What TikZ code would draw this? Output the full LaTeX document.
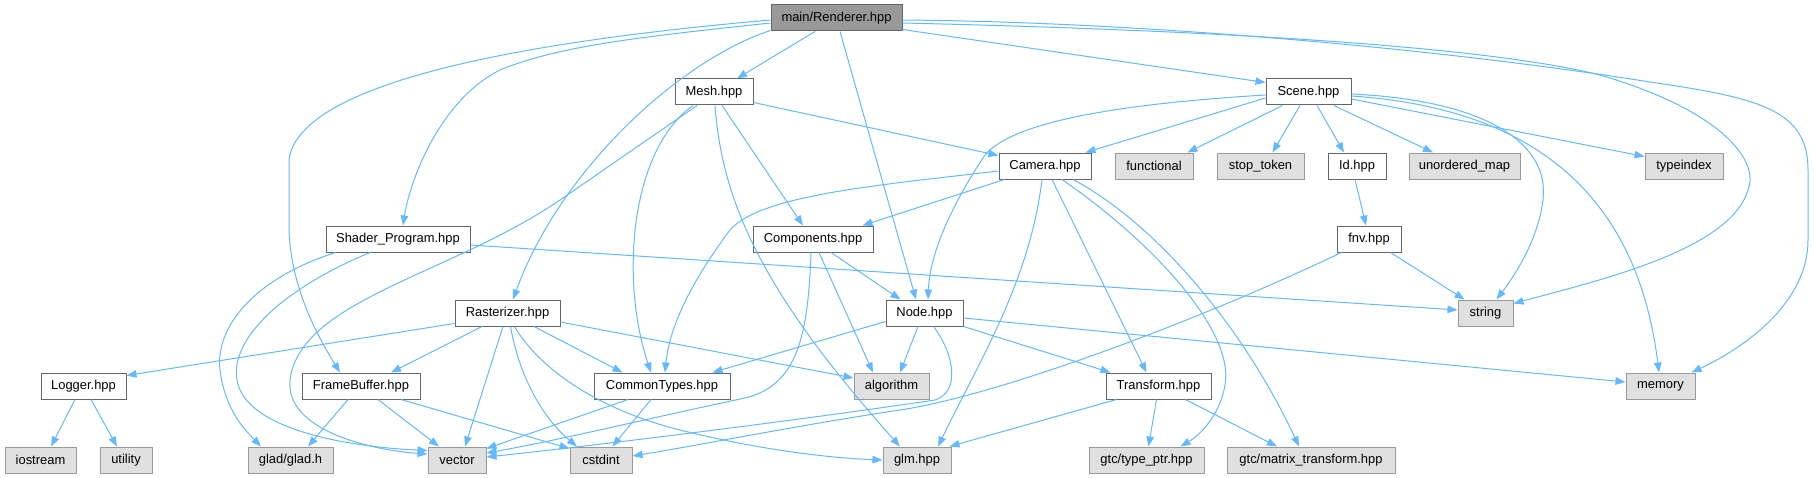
\documentclass[tikz,border=0pt]{standalone}
\usepackage{fontspec}
\setmainfont{Liberation Sans}
\usetikzlibrary{arrows.meta,calc}
\definecolor{edgec}{HTML}{63B8FF}
\definecolor{boxborder}{HTML}{666666}
\definecolor{sysborder}{HTML}{999999}
\definecolor{sysfill}{HTML}{E0E0E0}
\definecolor{rootfill}{HTML}{999999}
\begin{document}
\begin{tikzpicture}[x=0.75pt,y=-0.75pt,
  box/.style={draw=boxborder, fill=white, line width=0.75pt, minimum height=19.5pt, inner sep=0pt,
    font=\fontsize{9.7}{11}\selectfont, text=black},
  sys/.style={box, draw=sysborder, fill=sysfill},
  root/.style={box, fill=rootfill},
  wd/.style={minimum width=#1*0.75pt},
  dep/.style={draw=edgec, line width=0.75pt, -{Triangle[length=7.5pt,width=5.6pt]}}]
\useasboundingbox (0,0) rectangle (1814,478);
% row 1
\node[root, wd=131] (R) at (836.5,18) {main/Renderer.hpp};
% row 2
\node[box, wd=78] (mesh) at (714,92) {Mesh.hpp};
\node[box, wd=85] (scene) at (1308.5,92) {Scene.hpp};
% row 3
\node[box, wd=92] (camera) at (1045,166) {Camera.hpp};
\node[sys, wd=78] (functional) at (1154,166) {functional};
\node[sys, wd=87] (stoptok) at (1260.5,166) {stop\_token};
\node[box, wd=58] (idh) at (1357,166) {Id.hpp};
\node[sys, wd=111] (umap) at (1464.5,166) {unordered\_map};
\node[sys, wd=78] (tindex) at (1684,166) {typeindex};
% row 4
\node[box, wd=144] (shader) at (398,239) {Shader\_Program.hpp};
\node[box, wd=120] (comp) at (813,239) {Components.hpp};
\node[box, wd=64] (fnv) at (1369,239) {fnv.hpp};
% row 5
\node[box, wd=105] (rast) at (507.5,313) {Rasterizer.hpp};
\node[box, wd=77] (nodeh) at (924.5,313) {Node.hpp};
\node[sys, wd=55] (str) at (1485.5,313) {string};
% row 6
\node[box, wd=85] (logger) at (83.5,386) {Logger.hpp};
\node[box, wd=118] (fb) at (361,386) {FrameBuffer.hpp};
\node[box, wd=136] (ctypes) at (662,386) {CommonTypes.hpp};
\node[sys, wd=75] (algo) at (891.5,386) {algorithm};
\node[box, wd=105] (transf) at (1158.5,386) {Transform.hpp};
\node[sys, wd=69] (memory) at (1660.5,386) {memory};
% row 7
\node[sys, wd=71] (iostream) at (40.5,460) {iostream};
\node[sys, wd=52] (utility) at (126,460) {utility};
\node[sys, wd=85] (glad) at (290.5,460) {glad/glad.h};
\node[sys, wd=58] (vector) at (457,460) {vector};
\node[sys, wd=62] (cstdint) at (601,460) {cstdint};
\node[sys, wd=68] (glm) at (917,460) {glm.hpp};
\node[sys, wd=115] (typeptr) at (1146.5,460) {gtc/type\_ptr.hpp};
\node[sys, wd=168] (matrix) at (1311,460) {gtc/matrix\_transform.hpp};

% Renderer
\draw[dep] ($(R.south)+(-21.5,0)$) -- ($(mesh.north)+(23,0)$);
\draw[dep] ($(R.south east)+(0,-2)$) -- ($(scene.north west)+(0,4)$);
\draw[dep] ($(R.south)+(3.5,0)$) -- ($(nodeh.north)+(-8.5,0)$);
\draw[dep] ($(R.south west)+(0,-1)$) .. controls (680,60) and (560,170) .. ($(rast.north)+(5.5,0)$);
\draw[dep] ($(R.west)+(0,5)$) .. controls (650,36) and (560,45) .. (500,70) .. controls (440,100) and (410,180) .. ($(shader.north)+(5,0)$);
\draw[dep] ($(R.west)+(0,2)$) .. controls (600,35) and (300,70) .. (289,160) -- (289,230) .. controls (291,290) and (320,340) .. ($(fb.north)+(-21,0)$);
\draw[dep] ($(R.east)+(0,5)$) .. controls (1200,30) and (1480,45) .. (1600,75) .. controls (1720,110) and (1760,160) .. (1748,190) .. controls (1730,250) and (1600,280) .. ($(str.north east)+(0,4)$);
\draw[dep] ($(R.east)+(0,2)$) .. controls (1150,22) and (1450,50) .. (1650,82) .. controls (1760,98) and (1808,110) .. (1808,170) -- (1808,240) .. controls (1808,300) and (1750,345) .. ($(memory.north east)+(-4,0)$);
% Mesh
\draw[dep] ($(mesh.south east)+(0,-3)$) -- ($(camera.north west)+(0,3)$);
\draw[dep] ($(mesh.south)+(8,0)$) -- ($(comp.north)+(-10,0)$);
\draw[dep] ($(mesh.south)+(1,0)$) .. controls (722,200) and (760,290) .. ($(glm.north)+(-17,0)$);
\draw[dep] ($(mesh.south)+(-21,0)$) .. controls (630,150) and (620,280) .. ($(ctypes.north)+(-11,0)$);
\draw[dep] ($(mesh.south)+(-17,0)$) -- (560,200) .. controls (450,275) and (300,300) .. (290,380) .. controls (285,430) and (370,450) .. ($(vector.west)+(0,-6)$);
% Scene
\draw[dep] ($(scene.west)+(0,6)$) -- ($(camera.north east)+(-6,0)$);
\draw[dep] ($(scene.west)+(0,3)$) .. controls (1100,105) and (1010,125) .. (985,155) .. controls (955,200) and (930,250) .. ($(nodeh.north)+(3.5,0)$);
\draw[dep] ($(scene.south west)+(17,0)$) -- ($(functional.north east)+(-6,0)$);
\draw[dep] ($(scene.south)+(-8.5,0)$) -- ($(stoptok.north)+(12,0)$);
\draw[dep] ($(scene.south)+(8.5,0)$) -- ($(idh.north)+(-13,0)$);
\draw[dep] ($(scene.south)+(25.5,0)$) -- ($(umap.north)+(-31.5,0)$);
\draw[dep] ($(scene.east)+(0,7)$) -- ($(tindex.north west)+(0,4)$);
\draw[dep] ($(scene.east)+(0,2)$) .. controls (1480,100) and (1550,140) .. (1543,200) .. controls (1538,240) and (1515,275) .. ($(str.north)+(11,0)$);
\draw[dep] ($(scene.east)+(0,4)$) .. controls (1560,110) and (1640,220) .. ($(memory.north)+(-1.5,0)$);
% Camera
\draw[dep] ($(camera.south west)+(6,0)$) -- ($(comp.north east)+(-11,0)$);
\draw[dep] ($(camera.west)+(0,5)$) .. controls (880,185) and (760,195) .. (730,230) .. controls (700,270) and (670,320) .. ($(ctypes.north)+(3,0)$);
\draw[dep] ($(camera.south)+(-3,0)$) .. controls (1030,280) and (980,360) .. ($(glm.north)+(21,0)$);
\draw[dep] ($(camera.south)+(7,0)$) -- ($(transf.north)+(-12,0)$);
\draw[dep] ($(camera.south)+(17,0)$) .. controls (1150,240) and (1235,330) .. (1225,385) .. controls (1220,415) and (1200,435) .. ($(typeptr.north east)+(-24,0)$);
\draw[dep] ($(camera.south)+(28,0)$) .. controls (1150,220) and (1240,320) .. ($(matrix.north)+(-12,0)$);
% Components
\draw[dep] ($(comp.south)+(18,0)$) -- ($(nodeh.north)+(-24,0)$);
\draw[dep] ($(comp.south)+(6,0)$) -- ($(algo.north)+(-18.5,0)$);
\draw[dep] ($(comp.south)+(-2,0)$) .. controls (808,330) and (800,385) .. (745,398) .. controls (650,418) and (560,440) .. ($(vector.east)+(0,-7)$);
% Node
\draw[dep] ($(nodeh.south west)+(0,-5)$) -- ($(ctypes.north east)+(-18,0)$);
\draw[dep] ($(nodeh.south)+(-6.5,0)$) -- ($(algo.north)+(8.5,0)$);
\draw[dep] ($(nodeh.south)+(9,0)$) .. controls (955,355) and (960,392) .. (935,400) .. controls (800,420) and (600,445) .. ($(vector.east)+(0,-3)$);
\draw[dep] (nodeh.south east) -- ($(transf.north west)+(5,0)$);
\draw[dep] ($(nodeh.east)+(0,5)$) -- ($(memory.west)+(0,-4)$);
% Rasterizer
\draw[dep] ($(rast.south west)+(0,-3)$) -- ($(logger.north east)+(0,3)$);
\draw[dep] ($(rast.south)+(-25.5,0)$) -- ($(fb.north)+(30,0)$);
\draw[dep] ($(rast.south)+(-4.5,0)$) -- ($(vector.north)+(8,0)$);
\draw[dep] ($(rast.south)+(3,0)$) .. controls (520,380) and (545,420) .. ($(cstdint.north)+(-24,0)$);
\draw[dep] ($(rast.south)+(7,0)$) .. controls (540,370) and (600,410) .. (680,430) .. controls (760,450) and (830,458) .. (glm.west);
\draw[dep] ($(rast.south)+(26.5,0)$) -- ($(ctypes.north west)+(29,0)$);
\draw[dep] ($(rast.east)+(0,9)$) -- ($(algo.west)+(0,-8)$);
% Shader_Program
\draw[dep] ($(shader.east)+(0,6)$) -- ($(str.west)+(0,-3)$);
\draw[dep] ($(shader.south west)+(10,0)$) .. controls (250,280) and (215,330) .. (220,370) .. controls (225,410) and (245,430) .. ($(glad.north)+(-29.5,0)$);
\draw[dep] ($(shader.south)+(-28,0)$) .. controls (280,290) and (230,340) .. (237,380) .. controls (245,430) and (350,447) .. ($(vector.north west)+(0,4)$);
% Logger
\draw[dep] ($(logger.south)+(-8.5,0)$) -- ($(iostream.north)+(10.5,0)$);
\draw[dep] ($(logger.south)+(7.5,0)$) -- ($(utility.north)+(-9,0)$);
% FrameBuffer
\draw[dep] ($(fb.south)+(-13,0)$) -- ($(glad.north)+(17.5,0)$);
\draw[dep] ($(fb.south)+(17,0)$) -- ($(vector.north)+(-18,0)$);
\draw[dep] ($(fb.south)+(40,0)$) -- ($(cstdint.north west)+(0,2)$);
% CommonTypes
\draw[dep] ($(ctypes.south)+(-34,0)$) -- ($(vector.north east)+(0,2)$);
\draw[dep] ($(ctypes.south)+(-11,0)$) -- ($(cstdint.north)+(11.5,0)$);
% Transform
\draw[dep] ($(transf.south)+(-42,0)$) -- ($(glm.north east)+(-2,0)$);
\draw[dep] ($(transf.south)+(-2,0)$) -- ($(typeptr.north)+(2,0)$);
\draw[dep] ($(transf.south)+(27,0)$) -- ($(matrix.north)+(-34,0)$);
% fnv, Id
\draw[dep] ($(fnv.south east)+(-11,0)$) -- ($(str.north west)+(7,0)$);
\draw[dep] ($(fnv.south west)+(5,0)$) .. controls (1200,320) and (1000,395) .. (900,410) .. controls (800,425) and (700,445) .. ($(cstdint.east)+(0,-4)$);
\draw[dep] ($(idh.south)+(-2,0)$) -- ($(fnv.north)+(-3,0)$);
\end{tikzpicture}
\end{document}
